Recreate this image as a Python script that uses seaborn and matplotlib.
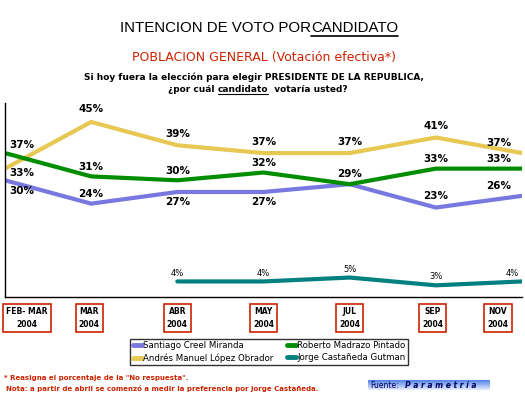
import numpy as np
import pandas as pd
import matplotlib
matplotlib.use("Agg")
import matplotlib.pyplot as plt
import matplotlib.transforms as mtransforms
import seaborn as sns
from matplotlib.lines import Line2D
from matplotlib.colors import LinearSegmentedColormap

# ---- data ----
months = ["FEB- MAR\n2004", "MAR\n2004", "ABR\n2004", "MAY\n2004", "JUL\n2004", "SEP\n2004", "NOV\n2004"]
creel = [30, 24, 27, 27, 29, 23, 26]
madrazo = [37, 31, 30, 32, 29, 33, 33]
lopez = [33, 45, 39, 37, 37, 41, 37]
castaneda = [np.nan, np.nan, 4, 4, 5, 3, 4]
names = ["Santiago Creel Miranda", "Andrés Manuel López Obrador",
         "Roberto Madrazo Pintado", "Jorge Castañeda Gutman"]
series = [creel, lopez, madrazo, castaneda]

# ---- styling ----
colors = ["#7878E0", "#E6C853", "#008E00", "#00807F"]
offsets = [
    [(12, -8), (0, 7), (0, -7), (0, -7), None, (0, 8), (-17, 7)],
    [(12, -3), (0, 9), (0, 8), (0, 8), (0, 8), (0, 8), (-17, 7)],
    [(12, 6), (0, 7), (0, 7), (0, 7), (0, 7), (0, 7), (-17, 7)],
    [None, None, (0, 6), (0, 6), (0, 6), (0, 6), (-7, 6)],
]
tick_shift_px = [22, -2, 0, 0, 0, -3, -24]

sns.set_theme(style="white")
plt.rcParams["font.family"] = ["DejaVu Sans"]
plt.rcParams["text.color"] = "black"
plt.rcParams["xtick.color"] = "black"
plt.rcParams["axes.labelcolor"] = "black"

fig = plt.figure(figsize=(5.25, 3.94), dpi=100)
W, H = 525, 394
ax = fig.add_axes([5 / W, 1 - 297 / H, (522 - 5) / W, 194.5 / H])

rows = []
for name, vals in zip(names, series):
    for i, v in enumerate(vals):
        rows.append({"x": i, "y": v, "cand": name})
df = pd.DataFrame(rows)
sns.lineplot(data=df, x="x", y="y", hue="cand", palette=dict(zip(names, colors)),
             hue_order=names, linewidth=3.0, ax=ax, legend=False)

ax.set_xlim(0, 6)
ax.set_ylim(0, 50)
ax.set_yticks([])
ax.set_xlabel("")
ax.set_ylabel("")
for s in ["top", "right"]:
    ax.spines[s].set_visible(False)
for s in ["left", "bottom"]:
    ax.spines[s].set_color("black")
    ax.spines[s].set_linewidth(1.0)

# data labels
for k, (vals, offs) in enumerate(zip(series, offsets)):
    for i, v in enumerate(vals):
        if np.isnan(v) or offs[i] is None:
            continue
        dx, dy = offs[i]
        if k == 3:
            ax.annotate(f"{int(v)}%", (i, v), xytext=(dx, dy), textcoords="offset points",
                        ha="center", va="center", fontsize=6, color="black")
        else:
            ax.annotate(f"{int(v)}%", (i, v), xytext=(dx, dy), textcoords="offset points",
                        ha="center", va="center", fontsize=7.5, fontweight="bold", color="black")

# x tick labels in red boxes
ax.set_xticks(range(len(months)))
ax.set_xticklabels(months, fontsize=5.5, fontweight="bold", linespacing=1.6)
ax.tick_params(axis="x", length=0, pad=7)
labs = ax.get_xticklabels()
for i, t in enumerate(labs):
    t.set_bbox(dict(boxstyle="square,pad=0.4", fc="white", ec="#CC2200", lw=1.2))
    t.set_va("top")
    t.set_multialignment("center")
    t.set_transform(t.get_transform() +
                    mtransforms.ScaledTranslation(tick_shift_px[i] / 100, 0, fig.dpi_scale_trans))

# legend
handles = [Line2D([], [], color=c, lw=3.5) for c in colors]
leg = fig.legend(handles, names, ncol=2, loc="center",
                 bbox_to_anchor=(269 / W, 1 - 352 / H), fontsize=6.2, frameon=True,
                 handlelength=1.1, handletextpad=0.1, columnspacing=1.6,
                 borderpad=0.25, labelspacing=0.35, fancybox=False)
leg.get_frame().set_edgecolor("black")
leg.get_frame().set_linewidth(1.0)

# titles
fig.canvas.draw()
r = fig.canvas.get_renderer()
t1 = fig.text(120 / W, 1 - 28 / H, "INTENCION DE VOTO POR", fontsize=10.8, family="Liberation Sans",
              ha="left", va="center", color="black")
bb = t1.get_window_extent(r)
t2 = fig.text(bb.x1 / W, 1 - 28 / H, "CANDIDATO", fontsize=10.8, family="Liberation Sans",
              ha="left", va="center", color="black")
bb2 = t2.get_window_extent(r)
fig.add_artist(Line2D([bb2.x0 / W, bb2.x1 / W], [1 - 35.5 / H, 1 - 35.5 / H], color="black", lw=1.2))

fig.text(264 / W, 1 - 57 / H, "POBLACION GENERAL (Votación efectiva*)", fontsize=9,
         color="#CC2200", ha="center", va="center")
fig.text(254 / W, 1 - 77 / H, "Si hoy fuera la elección para elegir PRESIDENTE DE LA REPUBLICA,",
         fontsize=6.5, fontweight="bold", ha="center", va="center")
q1 = fig.text(168 / W, 1 - 89 / H, "¿por cuál ", fontsize=6.5, fontweight="bold", ha="left", va="center")
b = q1.get_window_extent(r)
q2 = fig.text(b.x1 / W, 1 - 89 / H, "candidato", fontsize=6.5, fontweight="bold", ha="left", va="center")
b2 = q2.get_window_extent(r)
fig.add_artist(Line2D([b2.x0 / W, b2.x1 / W], [1 - 94 / H, 1 - 94 / H], color="black", lw=0.8))
fig.text(b2.x1 / W, 1 - 89 / H, "  votaría usted?", fontsize=6.5, fontweight="bold", ha="left", va="center")

# footnotes
fig.text(4 / W, 1 - 378 / H, "* Reasigna el porcentaje de la \"No respuesta\".", fontsize=5,
         fontweight="bold", color="#CC2200", ha="left", va="center")
fig.text(6 / W, 1 - 389 / H, "Nota: a partir de abril se comenzó a medir la preferencia por Jorge Castañeda.",
         fontsize=5, fontweight="bold", color="#CC2200", ha="left", va="center")

# source box
sax = fig.add_axes([368 / W, 1 - 390 / H, 122 / W, 10 / H])
grad = np.linspace(0, 1, 50).reshape(-1, 1)
cmap = LinearSegmentedColormap.from_list("g", ["#4F82E6", "#E8EEFF"])
sax.imshow(grad, aspect="auto", cmap=cmap, extent=[0, 1, 0, 1])
sax.set_axis_off()
sax.text(0.02, 0.5, "Fuente:", fontsize=5.5, color="#000060", va="center", ha="left")
sax.text(0.3, 0.5, "P a r a m e t r í a", fontsize=5.5, color="#000060", fontweight="bold",
         style="italic", va="center", ha="left")

fig.savefig("out.png", dpi=100)
